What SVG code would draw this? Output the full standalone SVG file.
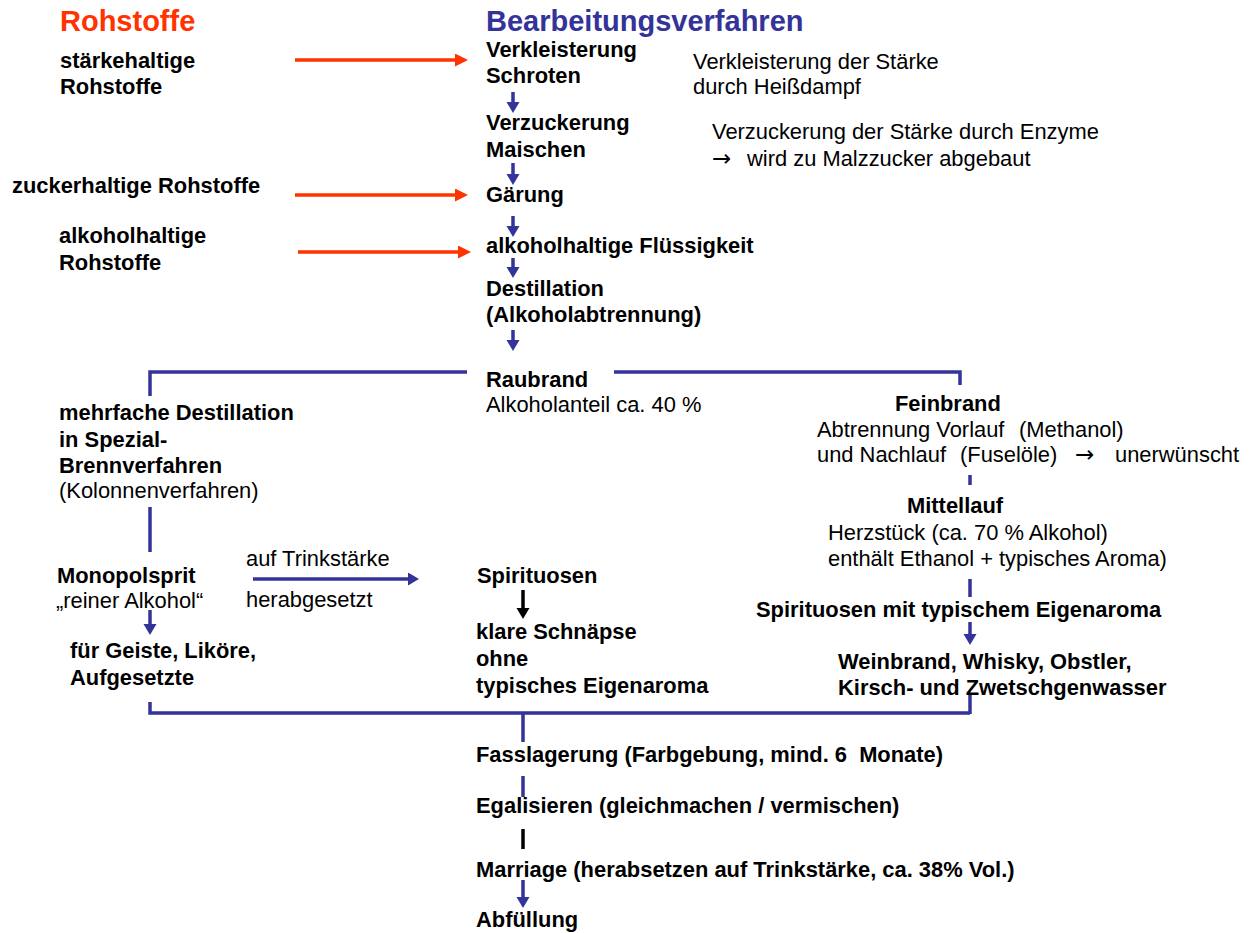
<svg xmlns="http://www.w3.org/2000/svg" width="1250" height="933" viewBox="0 0 1250 933">
<style>
text{font-family:"Liberation Sans",Arial,sans-serif;font-size:21.9px;fill:#000}
.b{font-weight:bold}
.t{font-weight:bold;font-size:29px}
.red{fill:#FF3300}
.blue{fill:#333399}
.ar{font-family:"DejaVu Sans",sans-serif;font-size:23px}
.lr{stroke:#FF3300;stroke-width:3.5;fill:none}
.lb{stroke:#333399;stroke-width:3.5;fill:none}
.lk{stroke:#000;stroke-width:3.5;fill:none}
</style>
<defs>
<marker id="hr" markerUnits="userSpaceOnUse" markerWidth="14" markerHeight="14" refX="1" refY="6.5" orient="auto"><path d="M0,0 L13,6.5 L0,13 z" fill="#FF3300"/></marker>
<marker id="hb" markerUnits="userSpaceOnUse" markerWidth="14" markerHeight="14" refX="1" refY="6.5" orient="auto"><path d="M0,0 L11,6.5 L0,13 z" fill="#333399"/></marker>
<marker id="hk" markerUnits="userSpaceOnUse" markerWidth="14" markerHeight="14" refX="1" refY="6.5" orient="auto"><path d="M0,0 L11,6.5 L0,13 z" fill="#000"/></marker>
</defs>
<rect width="1250" height="933" fill="#fff"/>

<g id="connectors">
<line class="lr" x1="295" y1="60" x2="456" y2="60" marker-end="url(#hr)"/>
<line class="lr" x1="295" y1="195" x2="456" y2="195" marker-end="url(#hr)"/>
<line class="lr" x1="298" y1="252" x2="459" y2="252" marker-end="url(#hr)"/>
<line class="lb" x1="513" y1="92" x2="513" y2="103" marker-end="url(#hb)"/>
<line class="lb" x1="513" y1="163" x2="513" y2="175" marker-end="url(#hb)"/>
<line class="lb" x1="513" y1="216" x2="513" y2="227" marker-end="url(#hb)"/>
<line class="lb" x1="513" y1="258" x2="513" y2="268" marker-end="url(#hb)"/>
<line class="lb" x1="513" y1="330" x2="513" y2="341" marker-end="url(#hb)"/>
<polyline class="lb" points="150,396 150,372 467,372"/>
<polyline class="lb" points="614,372 960,372 960,385"/>
<line class="lb" x1="150" y1="507" x2="150" y2="552"/>
<line class="lb" x1="150" y1="610" x2="150" y2="625" marker-end="url(#hb)"/>
<line class="lb" x1="253" y1="579" x2="409" y2="579" marker-end="url(#hb)"/>
<line class="lk" x1="523" y1="590" x2="523" y2="609" marker-end="url(#hk)"/>
<line class="lb" x1="970" y1="475" x2="970" y2="485"/>
<line class="lb" x1="970" y1="579" x2="970" y2="597"/>
<line class="lb" x1="970" y1="622" x2="970" y2="635" marker-end="url(#hb)"/>
<polyline class="lb" points="150,702 150,713 970,713"/>
<line class="lb" x1="970" y1="695" x2="970" y2="714"/>
<line class="lb" x1="523" y1="713" x2="523" y2="742"/>
<line class="lb" x1="523" y1="776" x2="523" y2="797"/>
<line class="lk" x1="523" y1="829" x2="523" y2="849"/>
<line class="lb" x1="523" y1="880" x2="523" y2="898" marker-end="url(#hb)"/>
</g>

<g id="title-rohstoffe"><text class="t red" x="60" y="31">Rohstoffe</text></g>
<g id="title-bearbeitung"><text class="t blue" x="486" y="31">Bearbeitungsverfahren</text></g>

<g id="staerkehaltig"><text class="b" x="60" y="68">stärkehaltige</text><text class="b" x="60" y="94">Rohstoffe</text></g>
<g id="zuckerhaltig"><text class="b" x="12" y="193">zuckerhaltige Rohstoffe</text></g>
<g id="alkoholhaltig"><text class="b" x="59" y="243">alkoholhaltige</text><text class="b" x="59" y="270">Rohstoffe</text></g>

<g id="verkleisterung"><text class="b" x="486" y="57">Verkleisterung</text><text class="b" x="486" y="83">Schroten</text></g>
<g id="note-verkleisterung"><text x="693" y="69">Verkleisterung der Stärke</text><text x="693" y="94">durch Heißdampf</text></g>
<g id="verzuckerung"><text class="b" x="486" y="130">Verzuckerung</text><text class="b" x="486" y="157">Maischen</text></g>
<g id="note-verzuckerung"><text x="712" y="139">Verzuckerung der Stärke durch Enzyme</text><text class="ar" x="712" y="166">→</text><text x="747" y="166">wird zu Malzzucker abgebaut</text></g>
<g id="gaerung"><text class="b" x="486" y="202">Gärung</text></g>
<g id="fluessigkeit"><text class="b" x="486" y="253">alkoholhaltige Flüssigkeit</text></g>
<g id="destillation"><text class="b" x="486" y="296">Destillation</text><text class="b" x="486" y="322">(Alkoholabtrennung)</text></g>

<g id="raubrand"><text class="b" x="486" y="387">Raubrand</text><text x="486" y="412">Alkoholanteil ca. 40 %</text></g>

<g id="mehrfach"><text class="b" x="59" y="420">mehrfache Destillation</text><text class="b" x="59" y="447">in Spezial-</text><text class="b" x="59" y="473">Brennverfahren</text><text x="59" y="498">(Kolonnenverfahren)</text></g>
<g id="monopolsprit"><text class="b" x="57" y="583">Monopolsprit</text><text x="56" y="608">„reiner Alkohol“</text></g>
<g id="trinkstaerke"><text x="246" y="566">auf Trinkstärke</text><text x="246" y="607">herabgesetzt</text></g>
<g id="geiste"><text class="b" x="70" y="658">für Geiste, Liköre,</text><text class="b" x="70" y="685">Aufgesetzte</text></g>

<g id="spirituosen"><text class="b" x="477" y="583">Spirituosen</text></g>
<g id="klare"><text class="b" x="476" y="639">klare Schnäpse</text><text class="b" x="476" y="666">ohne</text><text class="b" x="476" y="693">typisches Eigenaroma</text></g>

<g id="feinbrand"><text class="b" x="895" y="411">Feinbrand</text><text x="817" y="437">Abtrennung Vorlauf</text><text x="1019" y="437">(Methanol)</text><text x="817" y="462">und Nachlauf</text><text x="960" y="462">(Fuselöle)</text><text class="ar" x="1075" y="462">→</text><text x="1115" y="462">unerwünscht</text></g>
<g id="mittellauf"><text class="b" x="907" y="513">Mittellauf</text><text x="828" y="540">Herzstück (ca. 70 % Alkohol)</text><text x="828" y="566">enthält Ethanol + typisches Aroma)</text></g>
<g id="eigenaroma"><text class="b" x="756" y="617">Spirituosen mit typischem Eigenaroma</text></g>
<g id="weinbrand"><text class="b" x="838" y="669">Weinbrand, Whisky, Obstler,</text><text class="b" x="838" y="695">Kirsch- und Zwetschgenwasser</text></g>

<g id="fasslagerung"><text class="b" x="476" y="762" xml:space="preserve">Fasslagerung (Farbgebung, mind. 6  Monate)</text></g>
<g id="egalisieren"><text class="b" x="476" y="813">Egalisieren (gleichmachen / vermischen)</text></g>
<g id="marriage"><text class="b" x="476" y="877">Marriage (herabsetzen auf Trinkstärke, ca. 38% Vol.)</text></g>
<g id="abfuellung"><text class="b" x="476" y="927">Abfüllung</text></g>
</svg>
